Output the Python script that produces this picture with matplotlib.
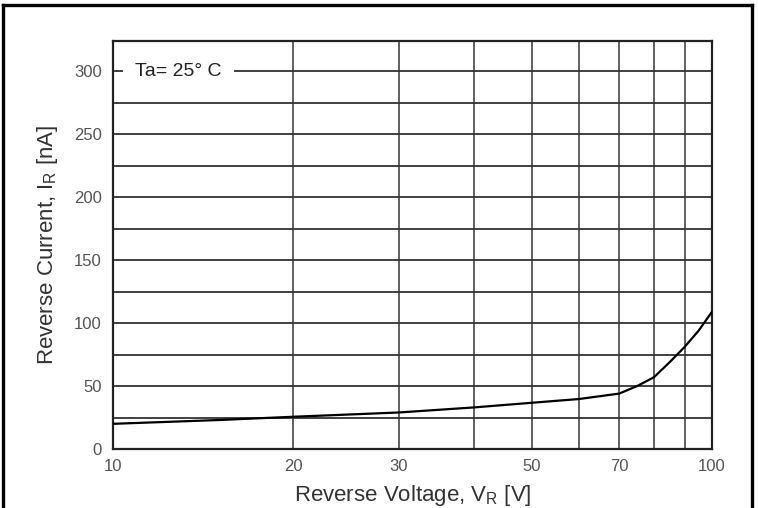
import matplotlib.pyplot as plt
from matplotlib.lines import Line2D

plt.rcParams['font.family'] = ['Liberation Sans', 'DejaVu Sans']

# reverse voltage [V] and reverse current [nA]
voltage = [10, 15, 20, 30, 40, 50, 60, 70, 75, 80, 85, 90, 95, 100]
current = [20, 23, 25.6, 29, 33, 36.7, 39.7, 44, 50, 57, 69, 81, 94, 109]

x_ticks = [10, 20, 30, 50, 70, 100]
y_ticks = [0, 50, 100, 150, 200, 250, 300]
x_grid = [20, 30, 40, 50, 60, 70, 80, 90]
y_grid = [25, 50, 75, 100, 125, 150, 175, 200, 225, 250, 275, 300]


def main():
    fig = plt.figure(figsize=(7.58, 5.08), dpi=100)
    ax = fig.add_axes([113 / 758, 59 / 508, 599 / 758, 408 / 508])

    ax.set_xscale('log')
    ax.set_xlim(10, 100)
    ax.set_ylim(0, 324)

    for v in x_grid:
        ax.axvline(v, color='#555555', lw=1.3, zorder=1)
    for c in y_grid:
        ax.axhline(c, color='#333333', lw=1.3, zorder=1)

    ax.plot(voltage, current, color='black', lw=1.6, zorder=3)

    ax.set_xticks(x_ticks)
    ax.set_xticklabels([str(t) for t in x_ticks])
    ax.xaxis.set_minor_locator(plt.NullLocator())
    ax.set_yticks(y_ticks)
    ax.tick_params(length=0, labelsize=12, labelcolor='#555555')
    ax.tick_params(axis='x', pad=7)
    ax.tick_params(axis='y', pad=8)

    for s in ax.spines.values():
        s.set_linewidth(1.6)
        s.set_color('#222222')

    ax.text(12.85, 300, 'Ta= 25° C', fontsize=14, color='#222222',
            ha='center', va='center', zorder=4,
            bbox=dict(facecolor='white', edgecolor='none', pad=9))

    ax.set_xlabel('Reverse Voltage, V$_\\mathregular{R}$ [V]', fontsize=16,
                  color='#333333', labelpad=7)
    ax.set_ylabel('Reverse Current, I$_\\mathregular{R}$ [nA]', fontsize=16,
                  color='#333333', labelpad=10)

    # outer frame around the whole picture
    fx0, fx1 = 3 / 758, 752 / 758
    fy = 1 - 5 / 508
    for xs, ys in [([fx0, fx1], [fy, fy]), ([fx0, fx0], [0, fy]), ([fx1, fx1], [0, fy])]:
        fig.add_artist(Line2D(xs, ys, transform=fig.transFigure,
                              color='black', lw=2.4))

    fig.savefig('out.png', dpi=100)


if __name__ == "__main__":
    main()
